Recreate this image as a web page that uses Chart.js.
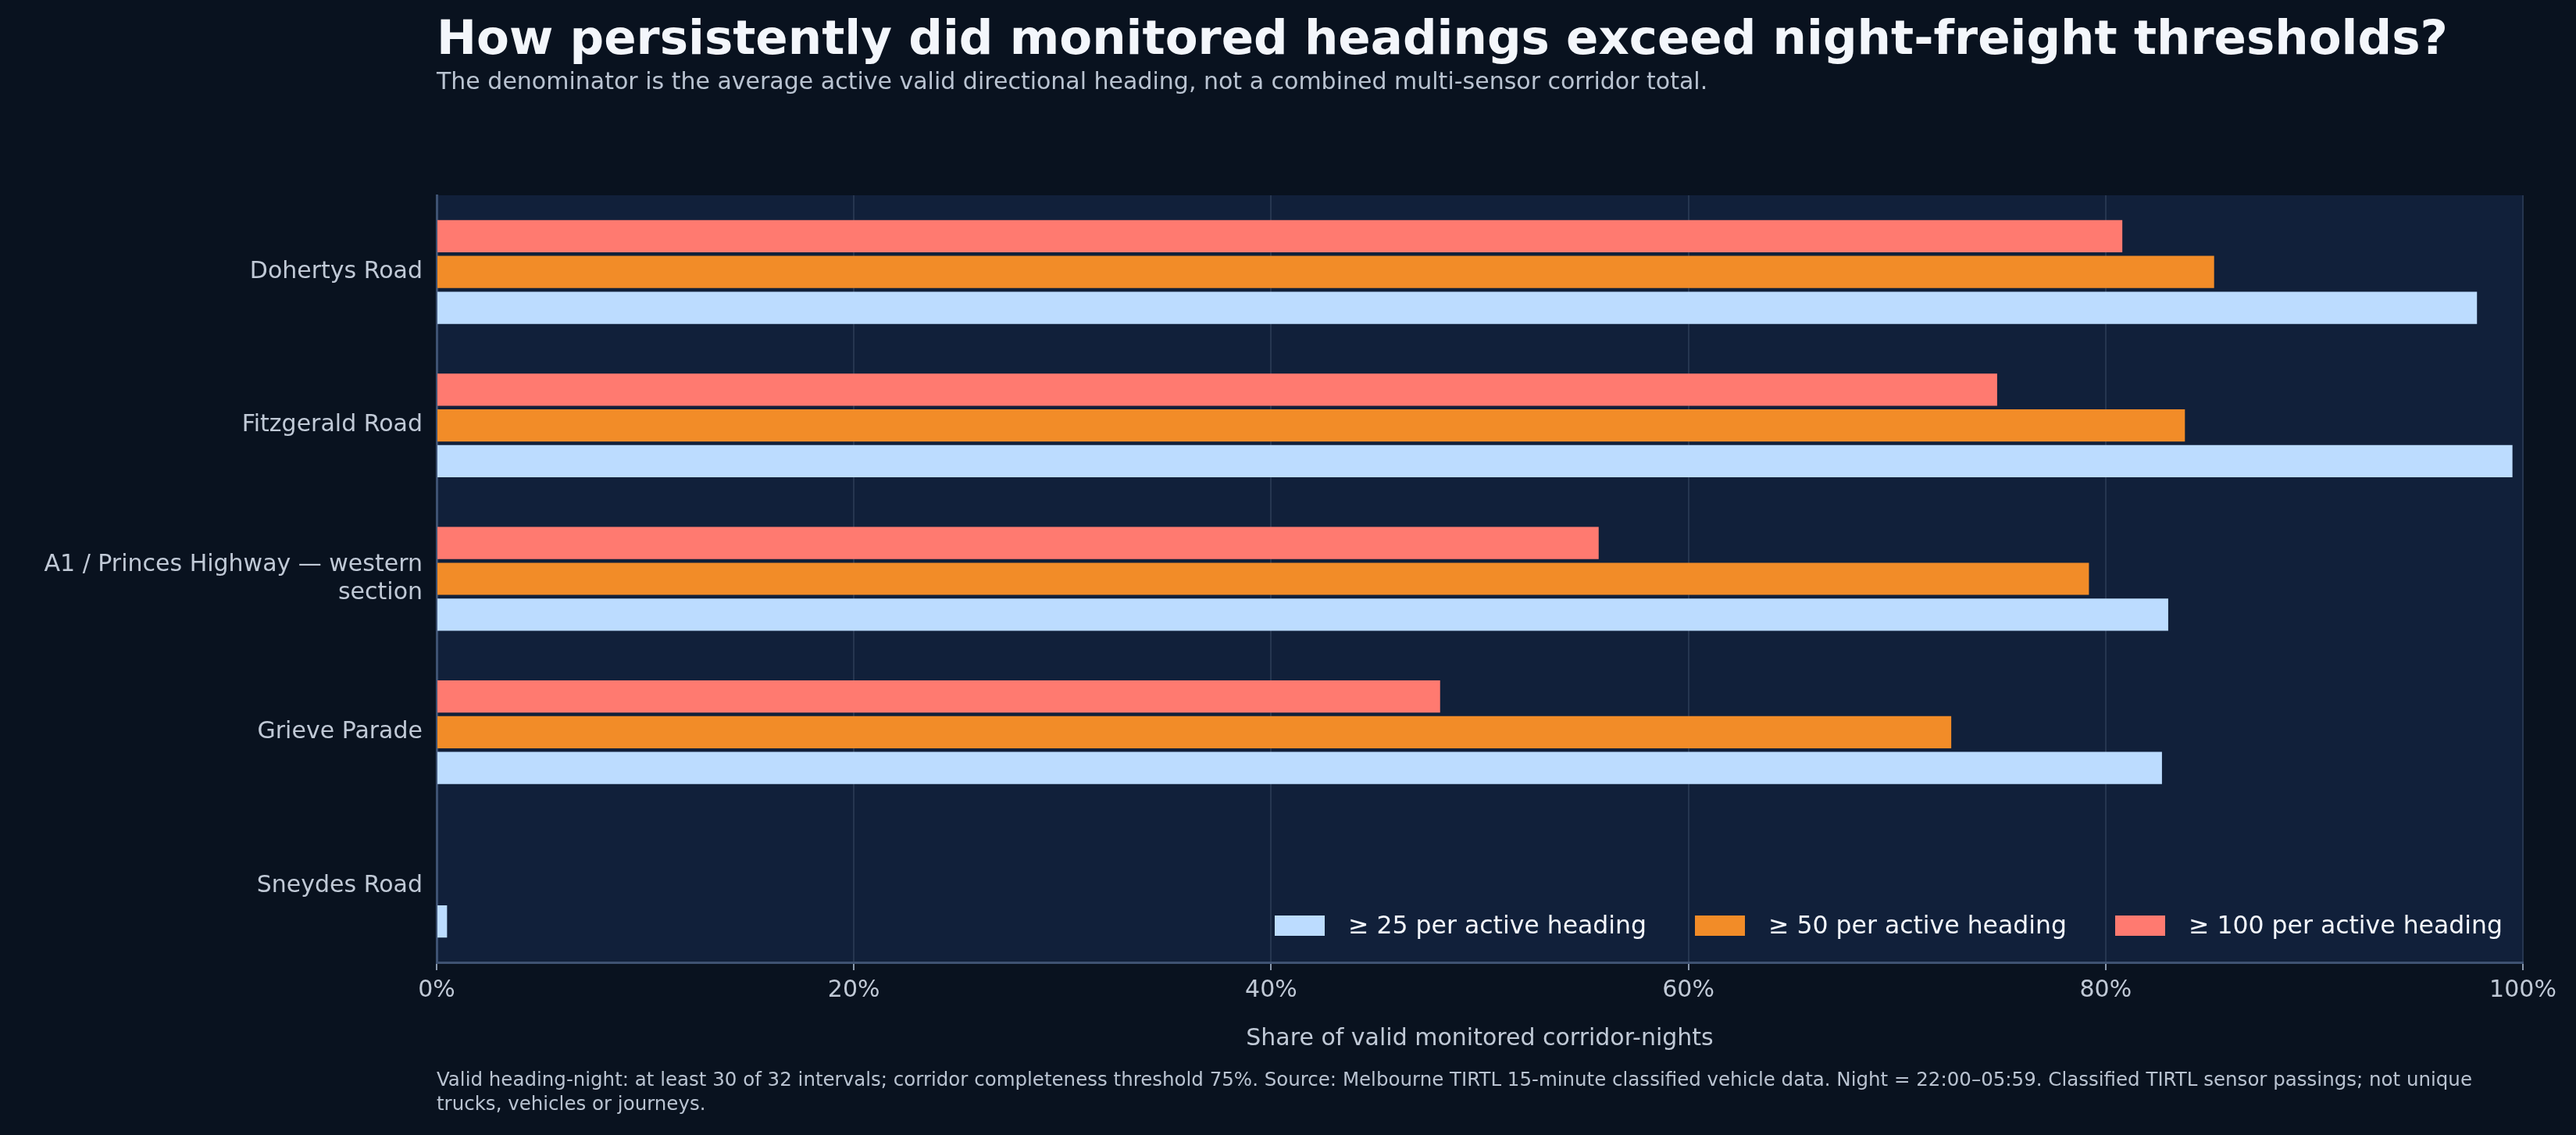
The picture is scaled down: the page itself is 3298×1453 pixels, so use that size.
<!DOCTYPE html>
<html>
<head>
<meta charset="utf-8">
<script src="https://cdn.jsdelivr.net/npm/chart.js@4/dist/chart.umd.min.js"></script>
<style>
  html, body { margin: 0; padding: 0; background: #09121f; }
  body { width: 3298px; height: 1453px; position: relative; overflow: hidden; font-family: "DejaVu Sans", sans-serif; }
  #chart { position: absolute; left: 0; top: 0; width: 3298px; height: 1453px; }
  .title { position: absolute; left: 559px; top: 12px; color: #f3f6fb; font-size: 61px; font-weight: bold; }
  .sub { position: absolute; left: 559px; top: 86px; color: #b9c3d1; font-size: 30px; }
  .foot { position: absolute; left: 559px; top: 1366px; width: 2660px; color: #b9c3d1; font-size: 24.5px; line-height: 31px; }
  #legend { position: absolute; right: 94px; top: 1166px; display: flex; gap: 62px; color: #f3f6fb; font-size: 31.5px; }
  #legend span.sw { display: inline-block; width: 64px; height: 26px; margin-right: 30px; vertical-align: -3px; }
</style>
</head>
<body>
<canvas id="chart" width="3298" height="1453"></canvas>
<div class="title">How persistently did monitored headings exceed night-freight thresholds?</div>
<div class="sub">The denominator is the average active valid directional heading, not a combined multi-sensor corridor total.</div>
<div id="legend"></div>
<div class="foot">Valid heading-night: at least 30 of 32 intervals; corridor completeness threshold 75%. Source: Melbourne TIRTL 15-minute classified vehicle data. Night = 22:00–05:59. Classified TIRTL sensor passings; not unique trucks, vehicles or journeys.</div>
<script>
  const corridors = ["Dohertys Road", "Fitzgerald Road", ["A1 / Princes Highway — western", "section"], "Grieve Parade", "Sneydes Road"];
  const over25 = [97.8, 99.5, 83.0, 82.7, 0.5];
  const over50 = [85.2, 83.8, 79.2, 72.6, 0];
  const over100 = [80.8, 74.8, 55.7, 48.1, 0];
  const xTicks = [0, 20, 40, 60, 80, 100];

  const series = [
    { label: "≥ 100 per active heading", data: over100, color: "#ff7a70" },
    { label: "≥ 50 per active heading", data: over50, color: "#f28c28" },
    { label: "≥ 25 per active heading", data: over25, color: "#bcdcff" }
  ];

  // legend, drawn inside the plot
  const legend = document.getElementById("legend");
  series.slice().reverse().forEach(s => {
    const d = document.createElement("div");
    d.innerHTML = '<span class="sw" style="background:' + s.color + '"></span>' + s.label;
    legend.appendChild(d);
  });

  const plotBg = {
    id: "plotBg",
    beforeDraw(chart) {
      const a = chart.chartArea, ctx = chart.ctx;
      ctx.save();
      ctx.fillStyle = "#11203a";
      ctx.fillRect(a.left, a.top, a.right - a.left, a.bottom - a.top);
      ctx.restore();
    }
  };

  Chart.defaults.font.family = "DejaVu Sans";
  Chart.defaults.color = "#c0c9d6";

  new Chart(document.getElementById("chart"), {
    type: "bar",
    data: {
      labels: corridors,
      datasets: series.map(s => ({
        label: s.label,
        data: s.data,
        backgroundColor: s.color,
        borderWidth: 0,
        categoryPercentage: 0.7,
        barPercentage: 0.9
      }))
    },
    options: {
      indexAxis: "y",
      responsive: false,
      animation: false,
      devicePixelRatio: 1,
      layout: { padding: { left: 0, top: 250, right: 68, bottom: 101 } },
      plugins: { legend: { display: false }, tooltip: { enabled: false } },
      scales: {
        x: {
          min: 0, max: 100,
          afterBuildTicks: s => { s.ticks = xTicks.map(v => ({ value: v })); },
          afterFit: s => { s.height = 120; },
          ticks: { font: { size: 30 }, color: "#c0c9d6", padding: 8, callback: v => v + "%" },
          grid: { color: "#263650", lineWidth: 2, tickColor: "#8a99ad", tickLength: 10 },
          border: { color: "#3e5272", width: 3 },
          title: { display: true, text: "Share of valid monitored corridor-nights", font: { size: 30 }, color: "#c0c9d6", padding: { top: 6 } }
        },
        y: {
          afterFit: s => { s.width = 559; },
          ticks: { font: { size: 30 }, color: "#c0c9d6", padding: 8 },
          grid: { display: false, drawTicks: true, tickColor: "#8a99ad", tickLength: 10 },
          border: { color: "#3e5272", width: 3 }
        }
      }
    },
    plugins: [plotBg]
  });
</script>
</body>
</html>
